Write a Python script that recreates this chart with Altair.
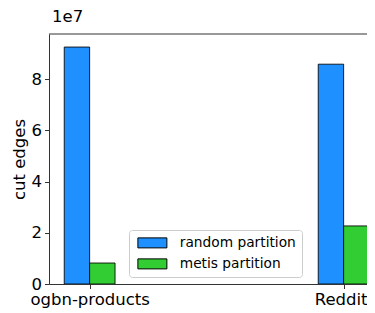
import json
import altair as alt
import pandas as pd

categories = ["ogbn-products", "Reddit"]
series = ["random partition", "metis partition"]
random_values = [9.26e7, 8.59e7]
metis_values = [0.82e7, 2.27e7]
colors = ["#1E90FF", "#32CD32"]
y_ticks = [0, 2e7, 4e7, 6e7, 8e7]

bar_w = 0.1
rows = []
for i, c in enumerate(categories):
    rows.append(dict(category=c, series=series[0], x=i - bar_w, x2=i, value=random_values[i], base=0))
    rows.append(dict(category=c, series=series[1], x=i, x2=i + bar_w, value=metis_values[i], base=0))
df = pd.DataFrame(rows)

W, H = 318, 250
FONT = "DejaVu Sans"

bars = alt.Chart(df).mark_bar(stroke="black", strokeWidth=1, strokeOpacity=0.85, clip=True).encode(
    x=alt.X("x:Q",
            scale=alt.Scale(domain=[-0.16, -0.16 + W / 254], nice=False, zero=False, padding=0),
            axis=alt.Axis(values=list(range(len(categories))),
                          labelExpr=f"{json.dumps(categories)}[datum.value]",
                          title=None, grid=False, tickSize=4.5, labelPadding=3,
                          labelOffset={"condition": {"test": f"datum.value == {len(categories) - 1}",
                                                     "value": -3}, "value": 0},
                          labelOverlap=False, labelBound=False, labelFlush=False)),
    x2="x2:Q",
    y=alt.Y("value:Q",
            scale=alt.Scale(domain=[0, 9.77e7], nice=False, padding=0),
            axis=alt.Axis(values=y_ticks, labelExpr="format(datum.value/1e7,'d')",
                          title="cut edges", grid=False, tickSize=4.5, labelPadding=3,
                          titlePadding=4)),
    y2="base:Q",
    color=alt.Color("series:N", scale=alt.Scale(domain=series, range=colors),
                    legend=alt.Legend(title=None, orient="none", legendX=80, legendY=196,
                                      direction="vertical",
                                      symbolType="M-0.8,-1H5V1H-0.8Z", symbolSize=100,
                                      symbolStrokeColor="black", symbolStrokeWidth=1,
                                      labelFontSize=13.75, labelFont=FONT, labelColor="black",
                                      labelOffset=31, rowPadding=6, padding=6,
                                      fillColor="rgba(255,255,255,0.8)", strokeColor="#cccccc",
                                      cornerRadius=3)),
)

top = alt.Chart(pd.DataFrame({"v": [0]})).mark_rule(color="#333", strokeWidth=1).encode(
    x=alt.value(0), x2=alt.value(W), y=alt.value(0)
)

chart = alt.layer(bars, top).properties(
    width=W, height=H,
    title=alt.TitleParams("1e7", anchor="start", frame="group", fontSize=16.5,
                          fontWeight="normal", font=FONT, color="black", offset=8, dx=3),
    autosize=alt.AutoSizeParams(type="none"),
    padding={"left": 41, "top": 26, "right": 0, "bottom": 29},
).configure_view(strokeWidth=0).configure_axis(
    domainColor="#333", tickColor="#333", labelColor="black", titleColor="black",
    labelFont=FONT, titleFont=FONT, labelFontSize=16.5, titleFontSize=16.5,
    titleFontWeight="normal", domainWidth=1, tickWidth=1,
)

chart.save("out.html", embed_options={"renderer": "svg", "actions": False})
